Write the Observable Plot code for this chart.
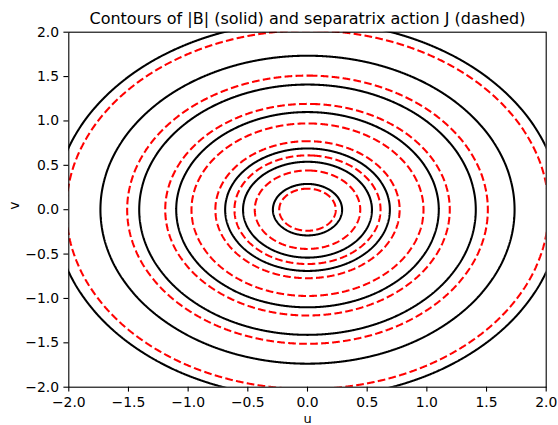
<!DOCTYPE html>
<html>
<head>
<meta charset="utf-8">
<script src="https://cdn.jsdelivr.net/npm/d3@7"></script>
<script src="https://cdn.jsdelivr.net/npm/@observablehq/plot@0.6"></script>
<style>
  html, body { margin: 0; padding: 0; background: white; }
</style>
</head>
<body>
<div id="chart"></div>
<script>
// Contour levels (radius of each circle in (u, v) units)
const bLevels = [0.29, 0.54, 0.69, 1.10, 1.41, 1.735, 2.12];          // |B| (solid black)
const jLevels = [0.237, 0.442, 0.612, 0.772, 0.972, 1.192, 1.511, 2.02]; // J (dashed red)
const tickValues = [-2, -1.5, -1, -0.5, 0, 0.5, 1, 1.5, 2];
const titleText = "Contours of |B| (solid) and separatrix action J (dashed)";
const xLabel = "u";
const yLabel = "v";

const fmt = d3.format(".1f");
const field = (u, v) => Math.hypot(u, v);

const chart = Plot.plot({
  width: 558,
  height: 425,
  marginLeft: 68.3,
  marginRight: 12.3,
  marginTop: 31.7,
  marginBottom: 38.3,
  style: { fontFamily: "DejaVu Sans", fontSize: "13.9px", background: "white", color: "black" },
  x: { domain: [-2, 2] },
  y: { domain: [-2, 2] },
  marks: [
    Plot.contour({
      x1: -3, y1: -3, x2: 3, y2: 3,
      value: field,
      thresholds: bLevels,
      fill: "none",
      stroke: "black",
      strokeWidth: 2.08,
      pixelSize: 0.5,
      clip: true
    }),
    Plot.contour({
      x1: -3, y1: -3, x2: 3, y2: 3,
      value: field,
      thresholds: jLevels,
      fill: "none",
      stroke: "#ff0000",
      strokeWidth: 2.08,
      strokeDasharray: "7.7,3.3",
      pixelSize: 0.5,
      clip: true
    }),
    Plot.frame({ stroke: "black", strokeWidth: 1.1 }),
    Plot.axisX({ ticks: tickValues, tickFormat: fmt, tickSize: 4.9, tickPadding: 4.9, fontSize: 13.9, strokeWidth: 1.1, label: null }),
    Plot.axisY({ ticks: tickValues, tickFormat: fmt, tickSize: 4.9, tickPadding: 4.9, fontSize: 13.9, strokeWidth: 1.1, label: null }),
    Plot.text([titleText], { frameAnchor: "top", lineAnchor: "middle", dy: -13, fontSize: 16, fill: "black" }),
    Plot.text([xLabel], { frameAnchor: "bottom", lineAnchor: "bottom", dy: 36, fontSize: 13, fill: "black" }),
    Plot.text([yLabel], { frameAnchor: "left", dx: -54, rotate: -90, fontSize: 13.9, fill: "black" })
  ]
});
document.getElementById("chart").appendChild(chart);
</script>
</body>
</html>
